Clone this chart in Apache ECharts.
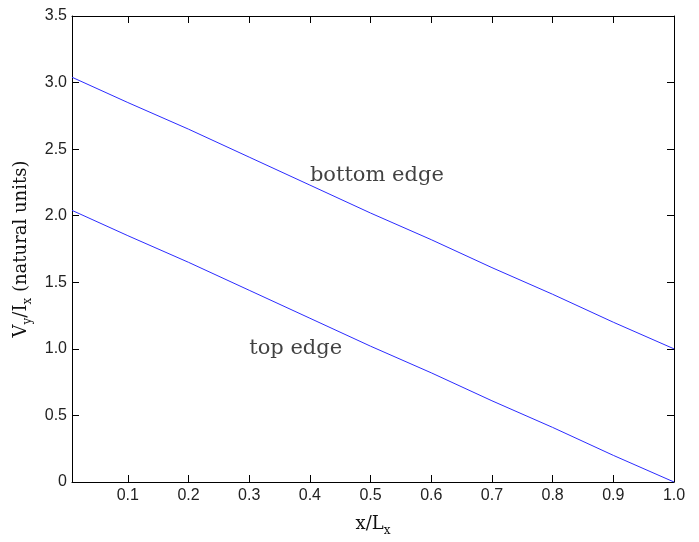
<!DOCTYPE html>
<html>
<head>
<meta charset="utf-8">
<script src="https://cdn.jsdelivr.net/npm/echarts@6/dist/echarts.min.js"></script>
<style>
  html, body { margin: 0; padding: 0; background: #fff; }
  #main { width: 699px; height: 542px; }
</style>
</head>
<body>
<div id="main"></div>
<script>
// x positions (x/Lx)
const xPos = [0.008, 0.1, 0.2, 0.3, 0.4, 0.5, 0.6, 0.7, 0.8, 0.9, 1.0]
// Vy/Ix along the bottom edge
const bottomEdge = [3.04, 2.85, 2.65, 2.44, 2.23, 2.02, 1.82, 1.61, 1.41, 1.20, 1.00]
// Vy/Ix along the top edge
const topEdge = [2.04, 1.85, 1.65, 1.44, 1.23, 1.02, 0.82, 0.61, 0.41, 0.20, 0.00]
// tick values
const xTicks = [0.1, 0.2, 0.3, 0.4, 0.5, 0.6, 0.7, 0.8, 0.9, 1.0]
const yTicks = [0, 0.5, 1.0, 1.5, 2.0, 2.5, 3.0, 3.5]
// text annotations (data coords)
const notes = [
    { name: 'bottom edge', value: [0.4, 2.3] },
    { name: 'top edge', value: [0.3, 1.0] }
]

const xMin = 0.008, xMax = 1.0, yMin = 0, yMax = 3.5

let myChart = echarts.init(document.getElementById('main'), null, { renderer: 'canvas' })

const tickFont = { fontFamily: 'Liberation Sans, Arial, sans-serif', fontSize: 16, color: '#222' }
const serif = 'DejaVu Serif, Liberation Serif, serif'
const axisLine = { show: true, onZero: false, lineStyle: { color: '#000', width: 1 } }
const nameRich = {
    a: { fontFamily: serif, fontSize: 18, color: '#111', lineHeight: 22 },
    s: { fontFamily: serif, fontSize: 12, color: '#111', padding: [14, 0, 0, 0] }
}

function pairs(ys) {
    return xPos.map(function (x, i) { return [x, ys[i]] })
}

let option = {
    animation: false,
    backgroundColor: '#fff',
    grid: { left: 72, right: 25, top: 16, bottom: 51 },
    xAxis: [{
        type: 'value', min: xMin, max: xMax, position: 'bottom',
        axisLine: axisLine,
        axisTick: { inside: true, length: 7, customValues: xTicks, lineStyle: { color: '#000' } },
        axisLabel: Object.assign({ customValues: xTicks, margin: 6,
            formatter: function (v) { return v.toFixed(1) } }, tickFont),
        splitLine: { show: false },
        name: '{a|x/L}{s|x}', nameLocation: 'middle', nameGap: 29,
        nameTextStyle: { rich: nameRich }
    }, {
        // top edge of the box, ticks only
        type: 'value', min: xMin, max: xMax, position: 'top',
        axisLine: axisLine,
        axisTick: { inside: true, length: 7, customValues: xTicks, lineStyle: { color: '#000' } },
        axisLabel: { show: false },
        splitLine: { show: false }
    }],
    yAxis: [{
        type: 'value', min: yMin, max: yMax, interval: 0.5, position: 'left',
        axisLine: axisLine,
        axisTick: { inside: true, length: 7, customValues: yTicks, lineStyle: { color: '#000' } },
        axisLabel: Object.assign({ customValues: yTicks, margin: 5,
            formatter: function (v) { return v === 0 ? '0' : v.toFixed(1) } }, tickFont),
        splitLine: { show: false },
        name: '{a|V}{s|y}{a|/I}{s|x}{a| (natural units)}', nameLocation: 'middle', nameGap: 35,
        nameTextStyle: { rich: nameRich }
    }, {
        // right edge of the box, ticks only
        type: 'value', min: yMin, max: yMax, interval: 0.5, position: 'right',
        axisLine: axisLine,
        axisTick: { inside: true, length: 7, customValues: yTicks, lineStyle: { color: '#000' } },
        axisLabel: { show: false },
        splitLine: { show: false }
    }],
    series: [{
        name: 'bottom edge', type: 'line', data: pairs(bottomEdge),
        showSymbol: false, lineStyle: { color: '#2b2bff', width: 1 }
    }, {
        name: 'top edge', type: 'line', data: pairs(topEdge),
        showSymbol: false, lineStyle: { color: '#2b2bff', width: 1 }
    }, {
        name: 'notes', type: 'scatter', data: notes, symbolSize: 0,
        label: {
            show: true, position: 'right', distance: 0,
            formatter: '{b}', fontFamily: serif, fontSize: 21, color: '#111'
        }
    }]
}

myChart.setOption(option)
</script>
</body>
</html>
